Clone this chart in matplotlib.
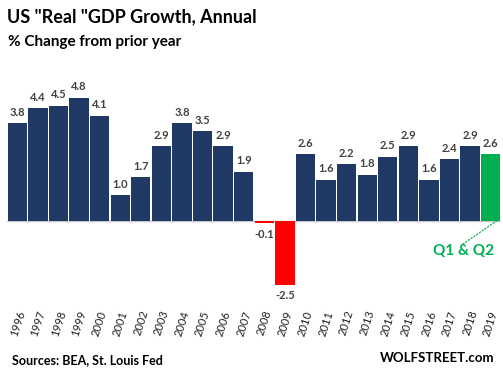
import matplotlib
matplotlib.use("Agg")
import matplotlib.pyplot as plt
import numpy as np

years = [str(y) for y in range(1996, 2020)]
growth = [3.8, 4.4, 4.5, 4.8, 4.1, 1.0, 1.7, 2.9, 3.8, 3.5, 2.9, 1.9,
          -0.1, -2.5, 2.6, 1.6, 2.2, 1.8, 2.5, 2.9, 1.6, 2.4, 2.9, 2.6]
labels = ["3.8", "4.4", "4.5", "4.8", "4.1", "1.0", "1.7", "2.9", "3.8", "3.5", "2.9", "1.9",
          "-0.1", "-2.5", "2.6", "1.6", "2.2", "1.8", "2.5", "2.9", "1.6", "2.4", "2.9", "2.6"]

navy = "#203864"
red = "#FF0000"
green = "#00B050"
colors = []
for y, v in zip(years, growth):
    if y == "2019":
        colors.append(green)
    elif v < 0:
        colors.append(red)
    else:
        colors.append(navy)

plt.rcParams['font.family'] = ['Lato', 'DejaVu Sans']

fig = plt.figure(figsize=(5.03, 3.72), dpi=100)
ax = fig.add_axes([0.014, 0.18, 0.982, 0.605])
x = np.arange(len(years))
ax.bar(x, growth, width=0.94, color=colors, zorder=2)
ax.axhline(0, color="#c8c8c8", lw=1, zorder=1)
ax.set_xlim(-0.5, len(years) - 0.5)
ax.set_ylim(-3.3, 5.5)
for s in ax.spines.values():
    s.set_visible(False)
ax.set_yticks([])
ax.set_xticks([])

for xi, v, lab in zip(x, growth, labels):
    if v >= 0:
        ax.annotate(lab, (xi, v), xytext=(0, 4), textcoords="offset points",
                    ha="center", va="bottom", fontsize=8, fontweight="bold", color="#404040")
    else:
        ax.annotate(lab, (xi, v), xytext=(0, -4), textcoords="offset points",
                    ha="center", va="top", fontsize=8, fontweight="bold", color="#404040")

for xi, y in zip(x, years):
    ax.annotate(y, (xi, -3.3), xytext=(0, -3), textcoords="offset points",
                ha="center", va="top", rotation=72, fontsize=8, color="#202020")

# Q1 & Q2 annotation
ax.annotate("", xy=(23.3, 0), xytext=(463, 128), textcoords="figure pixels",
            arrowprops=dict(arrowstyle="-", color=green, lw=0.9, linestyle=":",
                            shrinkA=0, shrinkB=0))
fig.text(464 / 503, 1 - 251 / 372, "Q1 & Q2", fontsize=11, fontweight="bold",
         color=green, ha="center", va="center")

fig.text(7 / 503, 1 - 17 / 372, 'US "Real "GDP Growth, Annual', fontsize=13,
         fontweight="bold", ha="left", va="center", color="#000000")
fig.text(8 / 503, 1 - 42 / 372, "% Change from prior year", fontsize=11,
         fontweight="bold", ha="left", va="center", color="#000000")
fig.text(12 / 503, 1 - 360 / 372, "Sources: BEA, St. Louis Fed", fontsize=9,
         fontweight="bold", ha="left", va="center", color="#000000")
fig.text(494 / 503, 1 - 358 / 372, "WOLFSTREET.com", fontsize=9.5,
         fontweight="bold", ha="right", va="center", color="#000000")

fig.savefig("out.png", dpi=100)
